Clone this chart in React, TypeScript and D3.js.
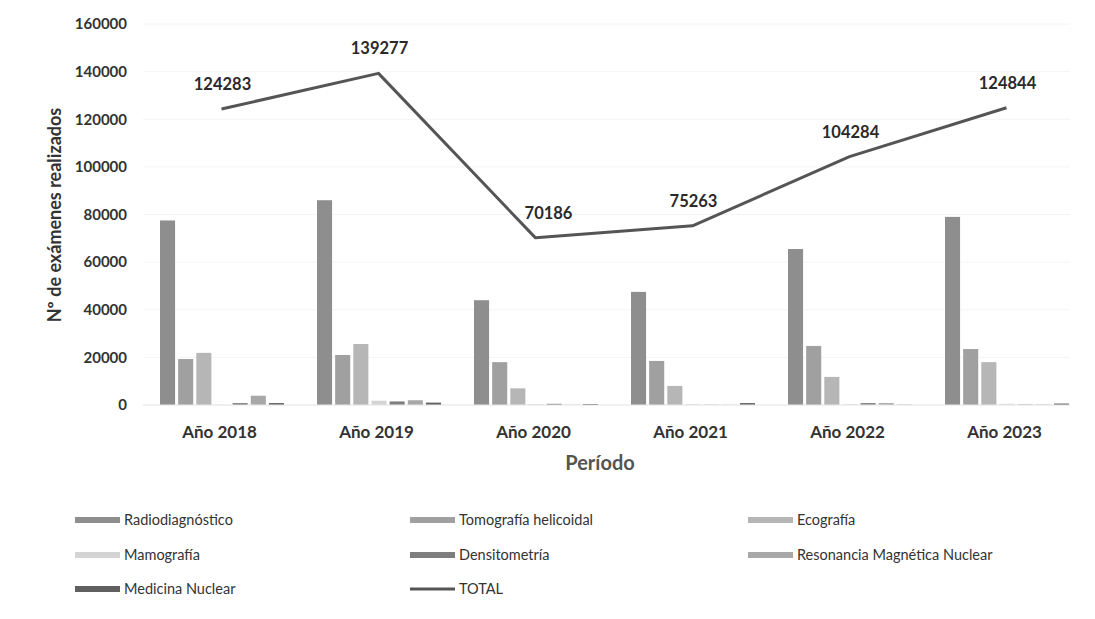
import React from "react";
import * as d3 from "d3";

const years = ["Año 2018", "Año 2019", "Año 2020", "Año 2021", "Año 2022", "Año 2023"];
const seriesNames = [
  "Radiodiagnóstico",
  "Tomografía helicoidal",
  "Ecografía",
  "Mamografía",
  "Densitometría",
  "Resonancia Magnética Nuclear",
  "Medicina Nuclear",
];
const radiodiagnostico = [77500, 86000, 44000, 47500, 65500, 79000];
const tomografia = [19300, 21000, 18000, 18500, 24800, 23500];
const ecografia = [21900, 25600, 7000, 8000, 11800, 18000];
const mamografia = [100, 1800, 300, 300, 300, 500];
const densitometria = [800, 1500, 500, 100, 800, 200];
const resonancia = [3900, 2000, 100, 100, 800, 200];
const medicinaNuclear = [800, 1000, 400, 800, 100, 600];
const totals = [124283, 139277, 70186, 75263, 104284, 124844];
const yTicks = [0, 20000, 40000, 60000, 80000, 100000, 120000, 140000, 160000];

const seriesValues = [radiodiagnostico, tomografia, ecografia, mamografia, densitometria, resonancia, medicinaNuclear];
const seriesColors = ["#8e8e8e", "#a0a0a0", "#b6b6b6", "#d4d4d4", "#7e7e7e", "#a8a8a8", "#606060"];

const FONT = "Lato, 'Open Sans', sans-serif";

export default function App() {
  const W = 1095, H = 619;
  const x = d3.scaleBand<string>().domain(years).range([143, 1085]);
  const y = d3.scaleLinear().domain([0, 160000]).range([405, 24]);
  const xs = d3.scaleBand<string>().domain(seriesNames).range([17, 141]).paddingInner(0.17);
  const cx = (i: number) => (x(years[i]) as number) + x.bandwidth() / 2;
  const line = d3
    .line<number>()
    .x((_, i) => cx(i))
    .y((d) => y(d));

  const legendCols = [75, 410, 748];
  const legendRows = [520, 555, 589];
  const legendItems = [
    ...seriesNames.map((n, i) => ({ name: n, color: seriesColors[i], line: false })),
    { name: "TOTAL", color: "#555", line: true },
  ];

  return (
    <svg width={W} height={H} style={{ position: "absolute", left: 0, top: 0, background: "#fff" }}>
      {yTicks.map((t) => (
        <g key={t}>
          <line x1={143} x2={1070} y1={y(t)} y2={y(t)} stroke="#f4f4f4" strokeWidth={1} />
          <text x={127} y={y(t)} dy="0.35em" textAnchor="end" fontFamily={FONT} fontWeight={700} fontSize={15} fill="#333">
            {t}
          </text>
        </g>
      ))}
      {years.map((yr, yi) => (
        <g key={yr} transform={`translate(${x(yr)},0)`}>
          {seriesNames.map((s, si) => {
            const v = seriesValues[si][yi];
            return <rect key={s} x={xs(s)} y={y(v)} width={xs.bandwidth()} height={y(0) - y(v)} fill={seriesColors[si]} />;
          })}
        </g>
      ))}
      <line x1={143} x2={1070} y1={y(0)} y2={y(0)} stroke="#e8e8e8" strokeWidth={1} />
      <path d={line(totals) || ""} fill="none" stroke="#555" strokeWidth={3} strokeLinejoin="round" />
      {totals.map((t, i) => (
        <text
          key={i}
          x={cx(i) + (i === 2 ? 13 : 1)}
          y={y(t) - 19}
          textAnchor="middle"
          fontFamily={FONT}
          fontWeight={700}
          fontSize={16.5}
          fill="#2a2a2a"
        >
          {t}
        </text>
      ))}
      {years.map((yr, i) => (
        <text key={yr} x={cx(i) - 2} y={438} textAnchor="middle" fontFamily={FONT} fontWeight={700} fontSize={17} fill="#333">
          {yr}
        </text>
      ))}
      <text x={600} y={470} textAnchor="middle" fontFamily={FONT} fontWeight={700} fontSize={20} fill="#555">
        Período
      </text>
      <text transform="translate(61,215) rotate(-90)" textAnchor="middle" fontFamily={FONT} fontWeight={700} fontSize={18} fill="#333">
        Nº de exámenes realizados
      </text>
      {legendItems.map((it, i) => {
        const lx = legendCols[i % 3];
        const ly = legendRows[Math.floor(i / 3)];
        return (
          <g key={it.name}>
            {it.line ? (
              <line x1={lx} x2={lx + 45} y1={ly} y2={ly} stroke={it.color} strokeWidth={3} />
            ) : (
              <rect x={lx} y={ly - 3} width={45} height={6} fill={it.color} />
            )}
            <text x={lx + 49} y={ly} dy="0.35em" fontFamily={FONT} fontSize={14.5} fill="#333">
              {it.name}
            </text>
          </g>
        );
      })}
    </svg>
  );
}
